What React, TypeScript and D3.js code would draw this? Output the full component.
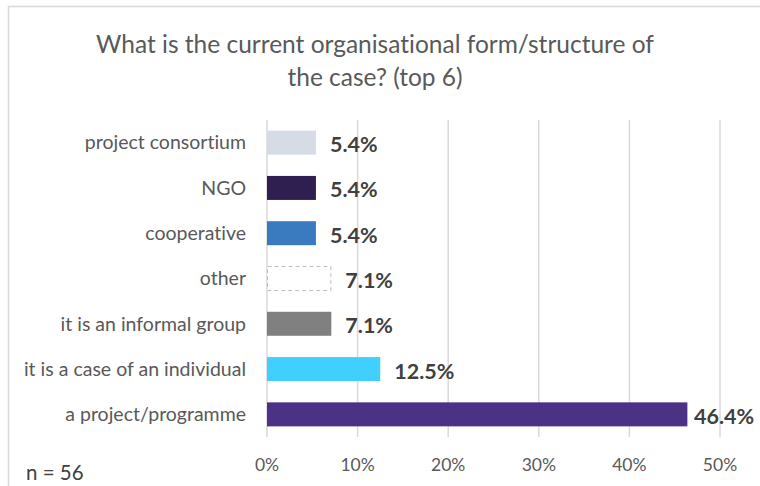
import React from "react";
import * as d3 from "d3";

const categories = [
  "project consortium",
  "NGO",
  "cooperative",
  "other",
  "it is an informal group",
  "it is a case of an individual",
  "a project/programme",
];
const values = [5.4, 5.4, 5.4, 7.1, 7.1, 12.5, 46.4];
const colors = ["#D6DCE5", "#2F1E50", "#3A7BC0", "#FFFFFF", "#808080", "#41CFFF", "#4B3284"];
const ticks = [0, 10, 20, 30, 40, 50];
const titleLines = ["What is the current organisational form/structure of", "the case? (top 6)"];
const note = "n = 56";

const W = 760;
const H = 486;
const FONT = "Lato, 'Source Sans Pro', sans-serif";

export default function App() {
  const x = d3.scaleLinear().domain([0, 50]).range([267, 720]);
  const y = d3.scaleBand<string>().domain(categories).range([120, 437]).paddingInner(0.47).paddingOuter(0.235);
  const bw = y.bandwidth();
  return (
    <svg
      width={W}
      height={H}
      style={{ position: "absolute", left: 0, top: 0, background: "#fff", fontVariantLigatures: "none", fontFeatureSettings: '"liga" 0, "clig" 0' }}
      fontFamily={FONT}
    >
      <rect x={8.5} y={6.5} width={W + 10} height={H + 10} fill="#fff" stroke="#D9D9D9" strokeWidth={1.5} />
      {titleLines.map((t, i) => (
        <text key={i} x={375} y={53 + i * 33} textAnchor="middle" fontSize={24.5} fill="#595959">
          {t}
        </text>
      ))}
      {ticks.map((t) => (
        <g key={t}>
          <line x1={x(t)} x2={x(t)} y1={120} y2={437} stroke="#D9D9D9" strokeWidth={1.5} />
          <text x={x(t)} y={471} textAnchor="middle" fontSize={17.5} fill="#595959">
            {t}%
          </text>
        </g>
      ))}
      {categories.map((c, i) => {
        const yy = y(c)!;
        const isOther = c === "other";
        const x1 = x(values[i]);
        const lx = Math.min(x1 + 14, 694);
        return (
          <g key={c}>
            <rect
              x={x(0) + (isOther ? 0.5 : 0)}
              y={yy}
              width={x1 - x(0) - (isOther ? 1 : 0)}
              height={bw}
              fill={colors[i]}
              stroke={isOther ? "#BFBFBF" : "none"}
              strokeDasharray={isOther ? "4 3" : undefined}
              strokeWidth={1}
            />
            <text x={246} y={yy + bw / 2} dy="0.35em" textAnchor="end" fontSize={19.5} fill="#595959">
              {c}
            </text>
            <text x={lx} y={yy + bw / 2 + 2} dy="0.35em" fontSize={21.5} fontWeight="bold" fill="#404040">
              {values[i].toFixed(1)}%
            </text>
          </g>
        );
      })}
      <text x={26} y={480} fontSize={20.5} fill="#404040">
        {note}
      </text>
    </svg>
  );
}
